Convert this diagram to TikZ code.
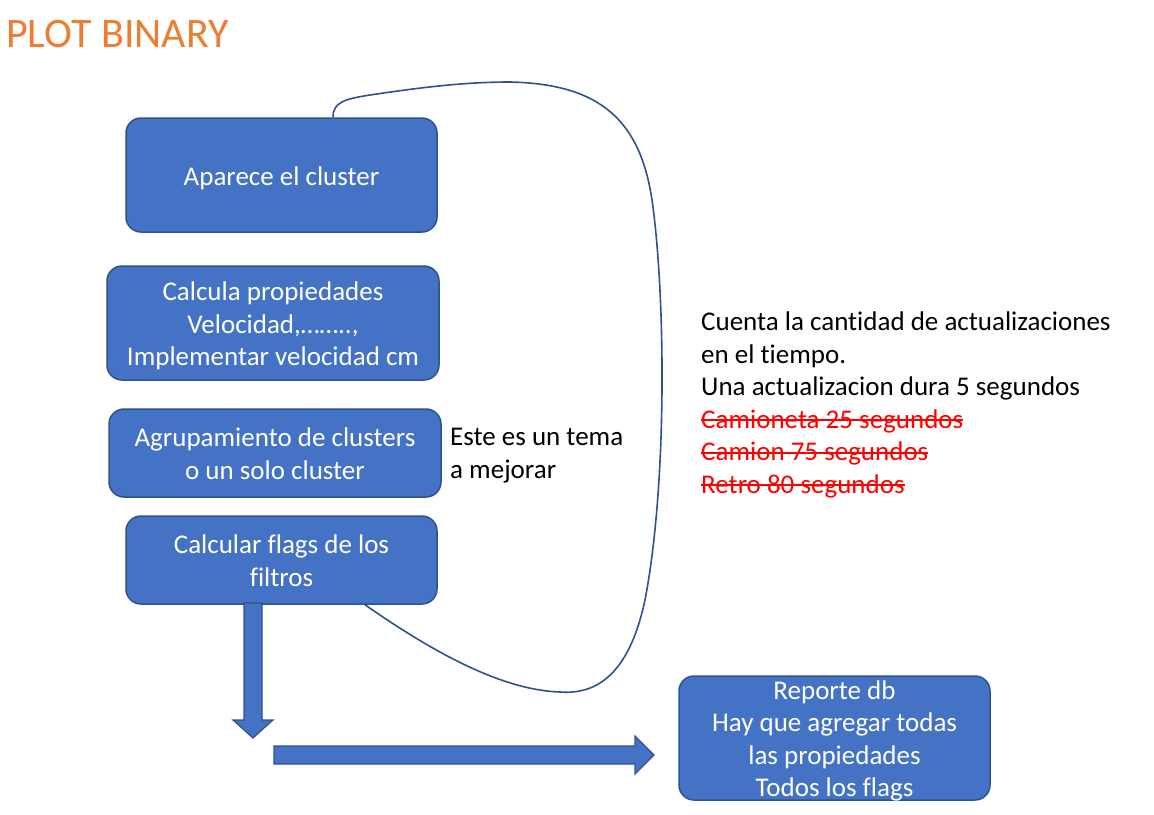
\documentclass[tikz,border=0pt]{standalone}
\usepackage{fontspec}
\setmainfont{Carlito}[Ligatures={NoCommon}]
\definecolor{boxfill}{HTML}{4472C4}
\definecolor{boxline}{HTML}{2F528F}
\definecolor{titleorange}{HTML}{ED7D31}
\definecolor{strikered}{HTML}{FF0000}
\newcommand\strikeit[1]{\setbox0\hbox{#1}\rlap{\rule[0.27em]{\wd0}{1.6pt}}\box0}
\newcommand\btext[1]{\raisebox{0pt}[\dimexpr\height+7pt\relax][\depth]{\begin{tabular}{@{}c@{}}#1\end{tabular}}}
\begin{document}
\begin{tikzpicture}[x=1pt,y=-1pt,
  blockbox/.style={draw=boxline, fill=boxfill, line width=1.5pt, rounded corners=15pt,
    text=white, inner xsep=0pt, inner ysep=-10pt, font=\fontsize{27}{32.5}\selectfont},
  plaintext/.style={align=left, inner sep=0pt, anchor=west, font=\fontsize{27}{32.5}\selectfont},
  blockarrow/.style={draw=boxline, fill=boxfill, line width=1.2pt, line join=miter},
  loopline/.style={draw=boxline, line width=1.6pt}]
\useasboundingbox (0,0) rectangle (1154,814);

\node[anchor=west, inner sep=0pt, text=titleorange, font=\fontsize{42}{48}\selectfont] (title) at (6,34) {PLOT BINARY};

\node[blockbox, minimum width=311pt, minimum height=114pt] (b1) at (281.5,175) {\btext{Aparece el cluster}};
\node[blockbox, minimum width=332pt, minimum height=114pt] (b2) at (273,323) {\btext{Calcula propiedades\\Velocidad,……..,\\Implementar velocidad cm}};
\node[blockbox, minimum width=332pt, minimum height=88pt] (b3) at (275,453) {\btext{Agrupamiento de clusters\\o un solo cluster}};
\node[blockbox, minimum width=311pt, minimum height=88pt] (b4) at (281.5,560) {\btext{Calcular flags de los\\filtros}};
\node[blockbox, minimum width=311pt, minimum height=124pt] (b5) at (834.5,738) {\btext{Reporte db\\Hay que agregar todas\\las propiedades\\Todos los flags}};

\node[plaintext] (note1) at (450,455.5) {Este es un tema\\a mejorar};
\node[plaintext] (note2) at (701,405) {Cuenta la cantidad de actualizaciones\\en el tiempo.\\Una actualizacion dura 5 segundos\\
{\color{strikered}\strikeit{Camioneta 25 segundos}}\\
{\color{strikered}\strikeit{Camion 75 segundos}}\\
{\color{strikered}\strikeit{Retro 80 segundos}}};

% block arrows
\draw[blockarrow] (244,603) -- (262,603) -- (262,720) -- (273,720) -- (253,738) -- (233,720) -- (244,720) -- cycle;
\draw[blockarrow] (274,746) -- (635,746) -- (635,736) -- (654,755) -- (635,774) -- (635,764) -- (274,764) -- cycle;

% loop curve
\draw[loopline] ([xshift=51.5pt]b1.north)
  .. controls (333,102) and (345,99) .. (370,95)
  .. controls (430,86) and (470,82) .. (510,82)
  .. controls (600,84) and (640,120) .. (652,200)
  .. controls (665,290) and (668,480) .. (645,600)
  .. controls (630,670) and (600,695) .. (560,692)
  .. controls (500,690) and (430,650) .. ([xshift=83.5pt]b4.south);
\end{tikzpicture}
\end{document}
